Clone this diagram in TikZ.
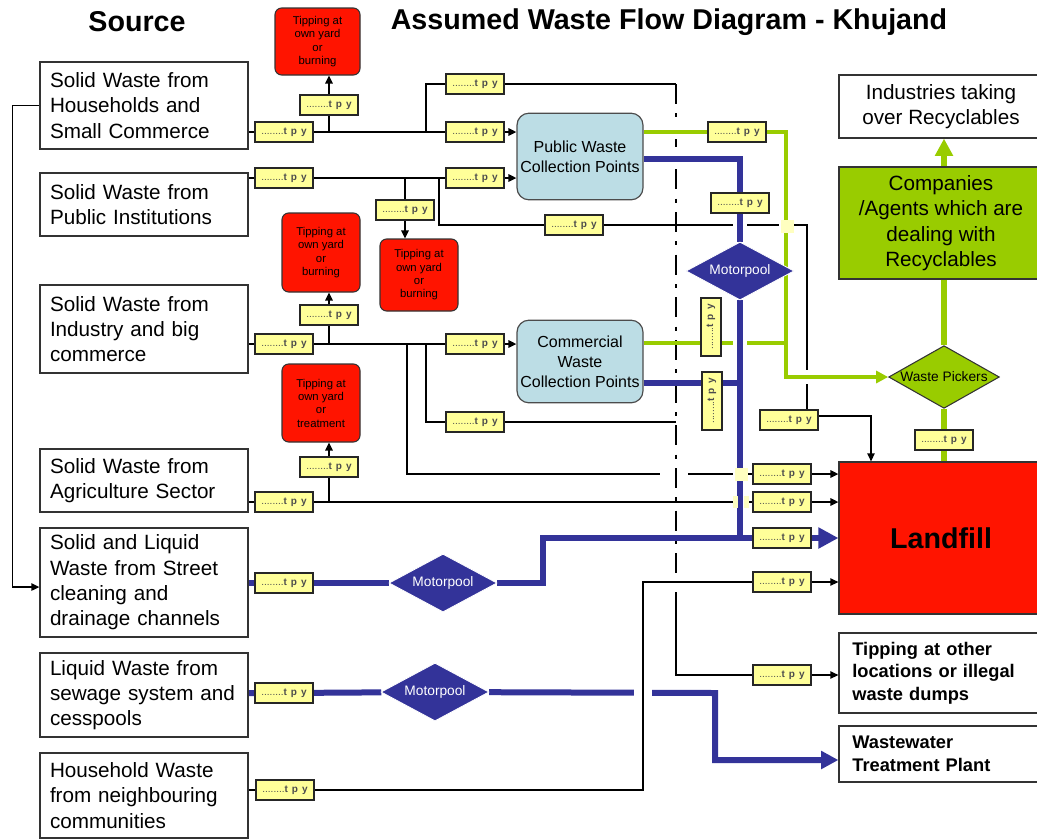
\documentclass[tikz,border=0pt]{standalone}
\usepackage{fontspec}
\setmainfont{Liberation Sans}
\usetikzlibrary{arrows.meta,shapes.geometric,backgrounds,positioning}

\definecolor{tpyyellow}{HTML}{FFFF99}
\definecolor{tipred}{HTML}{FF1400}
\definecolor{collblue}{HTML}{BCDDE5}
\definecolor{mpblue}{HTML}{333399}
\definecolor{recgreen}{HTML}{99CC00}
\definecolor{crossyellow}{HTML}{FFFFC0}

\tikzstyle{srcbox}=[draw=black!80, line width=0.9pt, fill=white, align=left, text width=141pt, inner xsep=7.5pt, inner ysep=0pt, font=\fontsize{15.5}{19}\selectfont]
\tikzstyle{tpy}=[draw=black!85, line width=0.9pt, fill=tpyyellow, minimum width=43.5pt, minimum height=15pt, inner sep=0pt, text=black!70, font=\fontsize{7.5}{8}\selectfont]
\tikzstyle{tipbox}=[draw=black!80, line width=0.8pt, fill=tipred, rounded corners=5pt, align=center, inner sep=0pt, font=\fontsize{8.5}{10}\selectfont]
\tikzstyle{collbox}=[draw=black!70, line width=0.9pt, fill=collblue, rounded corners=9pt, align=center, minimum width=94.5pt, inner sep=0pt, font=\fontsize{12}{15}\selectfont]
\tikzstyle{mpool}=[diamond, aspect=1.9, fill=mpblue, draw=white, line width=0.6pt, text=white, inner sep=0pt, minimum width=81pt, minimum height=43.5pt, font=\fontsize{10.3}{12}\selectfont]
\tikzstyle{sinkbox}=[draw=black!80, line width=0.9pt, minimum width=153pt, inner sep=0pt]
\tikzstyle{mainline}=[draw=black, line width=1.4pt]
\tikzstyle{thinline}=[draw=black, line width=1pt]
\tikzstyle{blueflow}=[draw=mpblue, line width=4.5pt]
\tikzstyle{greenflow}=[draw=recgreen, line width=3pt]
\tikzstyle{recflow}=[draw=recgreen, line width=5pt]
\tikzstyle{gapped}=[preaction={draw=white, line width=11pt, -}]
\tikzstyle{boundary}=[dash pattern=on 15pt off 7pt on 3pt off 7pt]
\tikzstyle{arr}=[-{Triangle[length=6pt,width=5.5pt]}]

\newcommand{\tpylabel}{........\textbf{t\hspace{3pt}p\hspace{3pt}y}}

\begin{document}
\begin{tikzpicture}[x=0.75pt, y=-0.75pt]
  \useasboundingbox (0,0) rectangle (1037,839);

  % titles
  \node[font=\fontsize{21.5}{24}\selectfont\bfseries] (srctitle) at (137,22) {Source};
  \node[font=\fontsize{21.5}{24}\selectfont\bfseries] (maintitle) at (669,22) {Assumed Waste Flow Diagram - Khujand};

  % sources
  \foreach \name/\y/\h/\txt in {src1/105.5/87/{Solid Waste from\\Households and\\Small Commerce},
      src2/204.5/63/{Solid Waste from\\Public Institutions},
      src3/329/88/{Solid Waste from\\Industry and big\\commerce},
      src4/480.5/63/{Solid Waste from\\Agriculture Sector},
      src5/582.5/109/{Solid and Liquid\\Waste from Street\\cleaning and\\drainage channels},
      src6/695/84/{Liquid Waste from\\sewage system and\\cesspools},
      src7/795.5/85/{Household Waste\\from neighbouring\\communities}}
    \node[srcbox, minimum height=\h*0.75pt] (\name) at (144,\y) {\txt};

  % tipping at own yard
  \foreach \name/\x/\y/\w/\h/\last in {red1/317.5/41.5/85/67/burning, red2/419/275/78/72/burning,
      red3/321/252.5/78/79/burning, red4/321/403/78/78/treatment}
    \node[tipbox, minimum width=\w*0.75pt, minimum height=\h*0.75pt] (\name) at (\x,\y) {Tipping at\\own yard\\or\\\last};

  % collection points
  \node[collbox, minimum height=65pt] (pub) at (580,156.5) {Public Waste\\Collection Points};
  \node[collbox, minimum height=62pt] (com) at (580,361.5) {Commercial\\Waste\\Collection Points};

  \foreach \name/\x/\y in {mp1/740/271, mp2/443/583, mp3/435/692}
    \node[mpool] (\name) at (\x,\y) {Motorpool};

  % right column
  \node[sinkbox, align=center, minimum height=47.25pt, font=\fontsize{15.5}{19}\selectfont] (ind) at (941,106.5) {Industries taking\\over Recyclables};
  \node[sinkbox, fill=recgreen, align=center, minimum height=84pt, font=\fontsize{15.5}{19}\selectfont] (rec) at (941,223) {Companies\\/Agents which are\\dealing with\\Recyclables};
  \node[diamond, aspect=1.75, draw=black!80, line width=0.8pt, fill=recgreen, inner sep=0pt, minimum width=83pt, minimum height=47pt, font=\fontsize{10.3}{12}\selectfont] (wp) at (944,377) {Waste Pickers};
  \node[sinkbox, fill=tipred, minimum height=114pt, font=\fontsize{21.5}{24}\selectfont\bfseries] (landfill) at (941,538) {Landfill};
  \node[sinkbox, align=left, text width=133pt, inner xsep=10pt, minimum height=60pt, font=\fontsize{13.7}{17}\selectfont\bfseries] (tipping) at (941,673) {Tipping at other\\locations or illegal\\waste dumps};
  \node[sinkbox, align=left, text width=133pt, inner xsep=10pt, minimum height=42pt, font=\fontsize{13.7}{17}\selectfont\bfseries] (ww) at (941,754) {Wastewater\\Treatment Plant};

  % quantities
  \foreach \name/\x/\y in {tA1/284/132, tA2/329/105, tA3/475/84, tA4/475/132,
      tB1/284/178, tB2/405/210, tB3/475/178, tB4/574/225,
      tC1/284/344, tC2/329/315, tC3/475/344, tC4/475/422, tC5/782/474,
      tD1/284/502, tD2/329/467, tD3/782/502, tE1/284/583, tF1/284/693,
      tG1/285/790, tG2/782/582, tP1/737/132, tP2/740/203, tL1/782/538,
      tT1/782/675, tW1/944/440, tW2/789/420}
    \node[tpy] (\name) at (\x,\y) {\tpylabel};
  \foreach \name/\x/\y in {tK1/711/327, tK2/712/401}
    \node[tpy, rotate=90] (\name) at (\x,\y) {\tpylabel};

  \coordinate (jA) at (426,132);
  \coordinate (jB) at (439,178);
  \coordinate (jC1) at (407,344);
  \coordinate (jC2) at (426,344);
  \coordinate (dtop) at (676,84);
  \coordinate (dmid) at (676,592);
  \coordinate (cB) at (807,225);
  \coordinate (cW) at (871,416);
  \coordinate (gapL) at (660,474);
  \coordinate (gapR) at (688,474);
  \coordinate (gV) at (786,132);
  \coordinate (gK) at (786,343);
  \coordinate (bT) at (740,159);
  \coordinate (bK) at (740,383);
  \coordinate (bJ) at (740,538);
  \coordinate (bS1) at (543,583);
  \coordinate (bS2) at (543,538);
  \coordinate (bL1) at (715,693);
  \coordinate (bL2) at (715,760);
  \coordinate (nB) at (643,790);
  \coordinate (nT) at (643,582);

  \begin{scope}[on background layer]
    % households
    \draw[mainline, arr] (tA1 -| src1.east) -- (tA1) -- (tA4) -- (tA4 -| pub.west);
    \draw[mainline, arr] (tA2 |- tA1) -- (tA2) -- (tA2 |- red1.south);
    \draw[thinline] (jA) |- (tA3) -- (dtop);
    \draw[thinline, boundary] (dtop) -- (dmid);
    \draw[thinline, arr] (dmid) |- (tT1) -- (tT1 -| tipping.west);
    % public institutions
    \draw[mainline, arr] (tB1 -| src2.east) -- (tB1) -- (tB3) -- (tB3 -| pub.west);
    \draw[mainline, arr] (tB2 |- tB1) -- (tB2) -- (tB2 |- red2.north);
    \draw[thinline, arr] (jB) |- (tB4) -- (cB) -- (cB |- cW) -- (cW) -- (cW |- landfill.north);
    % industry
    \draw[mainline, arr] (tC1 -| src3.east) -- (tC1) -- (tC3) -- (tC3 -| com.west);
    \draw[mainline, arr] (tC2 |- tC1) -- (tC2) -- (tC2 |- red3.south);
    \draw[mainline] (jC1) |- (gapL);
    \draw[mainline, arr] (gapR) -- (tC5) -- (tC5 -| landfill.west);
    \draw[thinline] (jC2) |- (tC4) -- (tC4 -| dtop);
    % agriculture
    \draw[mainline, arr] (tD1 -| src4.east) -- (tD1) -- (tD3) -- (tD3 -| landfill.west);
    \draw[mainline, arr] (tD2 |- tD1) -- (tD2) -- (tD2 |- red4.south);
    % street cleaning fed from households
    \draw[thinline, arr] (src1.west) -- ++(-27,0) |- ([yshift=-3.4pt]src5.west);

    % recyclables
    \draw[greenflow, gapped, -{Triangle[length=9pt,width=9pt]}] (tP1 -| pub.east) -- (tP1) -- (gV) -- (gV |- wp) -- (wp.west);
    \draw[greenflow] (com.east |- gK) -- (gK);
    \draw[recflow, -{Triangle[length=13pt,width=13pt]}] (wp |- rec.north) -- (wp |- ind.south);
    \draw[recflow] (rec.south -| wp) -- (wp.north);
    \draw[recflow] (wp.south) -- (tW1) -- (tW1 |- landfill.north);

    % motorpool
    \draw[blueflow, gapped] (bT -| pub.east) -- (bT) -- (tP2) -- (mp1.north);
    \draw[blueflow, gapped, -{Triangle[length=15pt,width=15pt]}] (mp1.south) -- (bJ) -- (tL1) -- (tL1 -| landfill.west);
    \draw[blueflow] (com.east |- bK) -- (bK);
    \draw[blueflow] (tE1 -| src5.east) -- (tE1) -- (mp2) -- (bS1) -- (bS2) -- (bJ);
    \draw[blueflow, -{Triangle[length=13pt,width=13pt]}] (tF1 -| src6.east) -- (tF1) -- (mp3) -- (bL1) -- (bL2) -- (bL2 -| ww.west);

    % neighbouring communities
    \draw[thinline, preaction={draw=white, line width=14pt, -}, arr] (tG1 -| src7.east) -- (tG1) -- (nB) -- (nT) -- (tG2) -- (tG2 -| landfill.west);

    % crossings
    \foreach \x/\y in {741/474, 787/226}
      \fill[crossyellow] (\x-6.5,\y-6.5) rectangle (\x+6.5,\y+6.5);
    \foreach \x in {733, 744}
      \fill[crossyellow] (\x,496) rectangle (\x+4.5,508);
  \end{scope}
\end{tikzpicture}
\end{document}
